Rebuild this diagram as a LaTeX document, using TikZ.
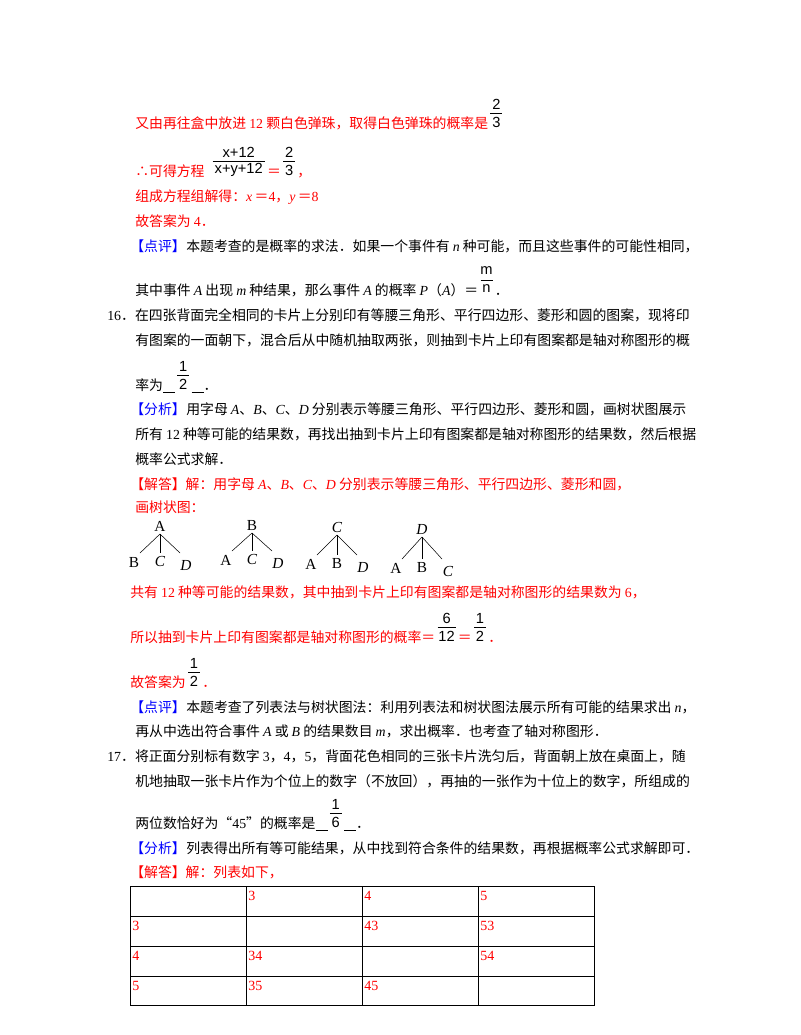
\documentclass[tikz,border=0pt]{standalone}
\usepackage{fontspec}
\usetikzlibrary{calc}
\setmainfont{Noto Sans CJK SC}
\newfontfamily\ser{Liberation Serif}
\newfontfamily\sn{Liberation Sans}
\newcommand{\iv}[1]{{\ser\itshape #1}}
\newcommand{\nm}[1]{{\ser #1}}
\newcommand{\blank}{\underline{\hspace{9pt}}}
\newcommand\frc[6]{%
  \coordinate (#1c) at ($(#2.base east)+(#6+2,0)$);
  \node[fr,text=#5] (#1n) at ($(#1c)+(0,-24)$) {#3};
  \node[fr,text=#5] (#1d) at ($(#1c)+(0,-6)$) {#4};
  \draw[#5] ($(#1c)+(-#6,-15)$) -- ($(#1c)+(#6,-15)$);
  \coordinate (#1e) at ($(#1c)+(#6+2,0)$);}
\begin{document}
\begin{tikzpicture}[x=0.75pt,y=-0.75pt,
  t/.style={anchor=base west,inner sep=0,font=\fontsize{10.4}{12}\selectfont},
  r/.style={t,text=red},
  b/.style={t,text=blue},
  fr/.style={anchor=center,inner sep=0,font=\sn\fontsize{11}{12}\selectfont}]
\useasboundingbox (0,0) rectangle (800,1035);
\fill[white] (0,0) rectangle (800,1035);
% top
\node[r] (l1) at (135,128) {又由再往盒中放进 \nm{12} 颗白色弹珠，取得白色弹珠的概率是};
\frc{fa}{l1}{2}{3}{black}{6}
\node[r] (l2) at (135,176) {∴可得方程};
\coordinate (l2x) at ($(l2.base east)+(4,0)$);
\node[t,anchor=base west] (l2s) at (l2x) {\phantom{}};
\frc{fb}{l2s}{x+12}{x+y+12}{black}{26}
\node[r] (eq) at (fbe) {＝};
\frc{fc}{eq}{2}{3}{black}{6}
\node[r] (cm) at (fce) {，};
\node[r] (l3) at (135,201) {组成方程组解得：\iv{x}\,＝\nm{4}，\iv{y}\,＝\nm{8}};
\node[r] (l4) at (135,226) {故答案为 \nm{4}．};
\node[b] (l5a) at (130,251) {【点评】};
\node[t] (l5b) at (l5a.base east) {本题考查的是概率的求法．如果一个事件有 \iv{n} 种可能，而且这些事件的可能性相同，};
\node[t] (l6) at (135,295) {其中事件 \iv{A} 出现 \iv{m} 种结果，那么事件 \iv{A} 的概率 \iv{P}（\iv{A}）＝};
\frc{fd}{l6}{m}{n}{black}{6}
\node[t] (dt) at (fde) {．};
% 16
\node[t] (q16a) at (107,320) {\nm{16}．在四张背面完全相同的卡片上分别印有等腰三角形、平行四边形、菱形和圆的图案，现将印};
\node[t] (q16b) at (135,345) {有图案的一面朝下，混合后从中随机抽取两张，则抽到卡片上印有图案都是轴对称图形的概};
\node[t] (q16c) at (135,390) {率为\blank};
\frc{fe}{q16c}{1}{2}{black}{6}
\node[t] (q16d) at (fee) {\blank．};
\node[b] (an1) at (130,414) {【分析】};
\node[t] (an1b) at (an1.base east) {用字母 \iv{A}、\iv{B}、\iv{C}、\iv{D} 分别表示等腰三角形、平行四边形、菱形和圆，画树状图展示};
\node[t] (an2) at (135,439) {所有 \nm{12} 种等可能的结果数，再找出抽到卡片上印有图案都是轴对称图形的结果数，然后根据};
\node[t] (an3) at (135,464) {概率公式求解．};
\node[r] (so1) at (130,489) {【解答】解：用字母 \iv{A}、\iv{B}、\iv{C}、\iv{D} 分别表示等腰三角形、平行四边形、菱形和圆，};
\node[r] (so2) at (135,512) {画树状图：};
% trees
\tikzset{lf/.style={inner sep=0,font=\ser\fontsize{11.5}{12}\selectfont}}
\foreach \cx/\top/\la/\lb/\lc/\dy in {160/A/B/\textit{C}/\textit{D}/0, 252/B/A/\textit{C}/\textit{D}/-2, 337/\textit{C}/A/B/\textit{D}/2, 422/\textit{D}/A/B/\textit{C}/6}{
  \node[lf] (r\cx) at (\cx,{526+\dy/2}) {\top};
  \node[lf] (x\cx) at ({\cx-26},{562+\dy}) {\la};
  \node[lf] (y\cx) at (\cx,{561+\dy}) {\lb};
  \node[lf] (z\cx) at ({\cx+26},{565+\dy}) {\lc};
  \draw[thin] ({\cx},{534+\dy/2}) -- ({\cx-20},{553+\dy});
  \draw[thin] ({\cx},{534+\dy/2}) -- ({\cx},{553+\dy});
  \draw[thin] ({\cx},{534+\dy/2}) -- ({\cx+20},{553+\dy});
}
\node[r] (s3) at (130,597) {共有 \nm{12} 种等可能的结果数，其中抽到卡片上印有图案都是轴对称图形的结果数为 \nm{6}，};
\node[r] (s4) at (130,642) {所以抽到卡片上印有图案都是轴对称图形的概率＝};
\frc{ff}{s4}{6}{12}{black}{9}
\node[r] (e6) at (ffe) {＝};
\frc{fg}{e6}{1}{2}{black}{6}
\node[r] (d6) at (fge) {．};
\node[r] (s5) at (130,687) {故答案为};
\frc{fh}{s5}{1}{2}{black}{6}
\node[r] (d8) at (fhe) {．};
\node[b] (py) at (130,712) {【点评】};
\node[t] (py1) at (py.base east) {本题考查了列表法与树状图法：利用列表法和树状图法展示所有可能的结果求出 \iv{n}，};
\node[t] (py2) at (135,736) {再从中选出符合事件 \iv{A} 或 \iv{B} 的结果数目 \iv{m}，求出概率．也考查了轴对称图形．};
% 17
\node[t] (q17a) at (107,761) {\nm{17}．将正面分别标有数字 \nm{3}，\nm{4}，\nm{5}，背面花色相同的三张卡片洗匀后，背面朝上放在桌面上，随};
\node[t] (q17b) at (135,786) {机地抽取一张卡片作为个位上的数字（不放回），再抽的一张作为十位上的数字，所组成的};
\node[t] (q17c) at (135,828) {两位数恰好为“\nm{45}”的概率是\blank};
\frc{fi}{q17c}{1}{6}{black}{6}
\node[t] (q17d) at (fie) {\blank．};
\node[b] (a17) at (130,853) {【分析】};
\node[t] (a17b) at (a17.base east) {列表得出所有等可能结果，从中找到符合条件的结果数，再根据概率公式求解即可．};
\node[r] (j17) at (130,877) {【解答】解：列表如下，};
% table
\draw[thin] (130,886) rectangle (594,1005);
\foreach \yy in {916,946,976} \draw[thin] (130,\yy) -- (594,\yy);
\foreach \xx in {246,362,478} \draw[thin] (\xx,886) -- (\xx,1005);
\tikzset{c/.style={anchor=north west,inner sep=0,text=red,font=\ser\fontsize{10.5}{12}\selectfont}}
\node[c] (h1) at (248,891) {3}; \node[c] (h2) at (364,891) {4}; \node[c] (h3) at (480,891) {5};
\node[c] (r1) at (132,921) {3}; \node[c] (c13) at (364,921) {43}; \node[c] (c14) at (480,921) {53};
\node[c] (r2) at (132,951) {4}; \node[c] (c21) at (248,951) {34}; \node[c] (c23) at (480,951) {54};
\node[c] (r3) at (132,981) {5}; \node[c] (c31) at (248,981) {35}; \node[c] (c32) at (364,981) {45};
\end{tikzpicture}
\end{document}
